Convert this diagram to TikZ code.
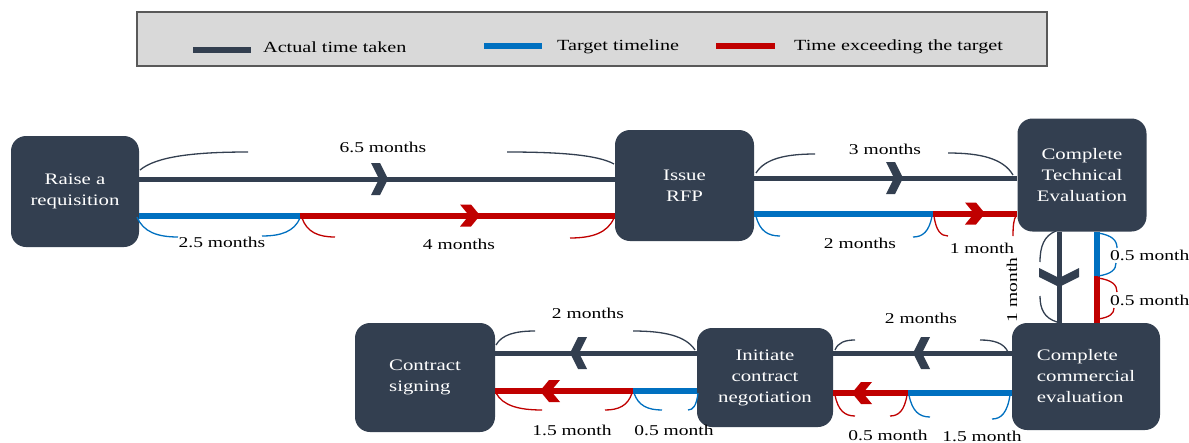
\documentclass[tikz,border=0pt]{standalone}
\usepackage{fontspec}
\setmainfont{Liberation Serif}[FakeStretch=1.3]
\usetikzlibrary{calc}
\definecolor{dk}{HTML}{333F50}
\definecolor{bl}{HTML}{0070C0}
\definecolor{rd}{HTML}{C00000}
\definecolor{lg}{HTML}{D9D9D9}
\definecolor{lb}{HTML}{595959}
\newcommand\myhb[5]{\draw[brc,#1] (#2,#3) .. controls ({#2+0.15*(#4-#2)},{#3+0.75*(#5-#3)}) and ({#2+0.5*(#4-#2)},#5) .. (#4,#5);}
\newcommand\myvb[5]{\draw[brc,#1] (#2,#3) .. controls ({#2+0.75*(#4-#2)},{#3+0.15*(#5-#3)}) and (#4,{#3+0.5*(#5-#3)}) .. (#4,#5);}
\begin{document}
\begin{tikzpicture}[x=1pt,y=-1pt,
 box/.style={fill=dk, rounded corners=15pt, text=white, font=\fontsize{16}{21}\selectfont, inner sep=0pt},
 lbl/.style={font=\fontsize{15}{17}\selectfont, inner sep=0pt},
 leglbl/.style={font=\fontsize{15.5}{17}\selectfont, inner sep=0pt, anchor=base west},
 dline/.style={draw=dk, line width=5pt},
 bline/.style={draw=bl, line width=6pt},
 rline/.style={draw=rd, line width=6pt},
 brc/.style={line width=1.3pt},
 chevD/.pic={\fill[dk] (-17,-16) -- (-8,-16) -- (0,0) -- (-8,16) -- (-17,16) -- (-9,0) -- cycle;},
 chevV/.pic={\fill[dk] (-19,-20) -- (-10,-20) -- (0,0) -- (-10,20) -- (-19,20) -- (-9,0) -- cycle;},
 chevR/.pic={\fill[rd] (-20,-11) -- (-9,-11) -- (0,0) -- (-9,11) -- (-20,11) -- (-11,0) -- cycle;},
]
\useasboundingbox (0,0) rectangle (1189,442);

% legend
\node[draw=lb, line width=1.2pt, fill=lg, minimum width=910pt, minimum height=54pt, inner sep=0pt] (leg) at (592,39) {};
\draw[dk, line width=6pt] (193,49.5) -- (251,49.5);
\node[leglbl] (l1) at (263,52) {Actual time taken};
\draw[bl, line width=6pt] (484,46) -- (542,46);
\node[leglbl] (l2) at (557,50) {Target timeline};
\draw[rd, line width=6pt] (716,46) -- (775,46);
\node[leglbl] (l3) at (794,50) {Time exceeding the target};

% nodes
\node[box, minimum width=128pt, minimum height=111pt, align=center] (req) at (75,191.5) {Raise a\\requisition};
\node[box, minimum width=139pt, minimum height=111pt, align=center] (rfp) at (684.5,185.5) {Issue\\RFP};
\node[box, minimum width=129pt, minimum height=113pt, align=center] (tech) at (1082,175) {Complete\\Technical\\Evaluation};
\node[box, minimum width=148pt, minimum height=107pt, align=left] (comm) at (1086,376.5) {Complete\\commercial\\evaluation};
\node[box, minimum width=136pt, minimum height=99pt, align=center] (neg) at (765,377.5) {Initiate\\contract\\negotiation};
\node[box, minimum width=140pt, minimum height=109pt, align=left] (sign) at (425,377.5) {Contract\\signing};

% segment 1
\coordinate (d1) at (0,179); \coordinate (s1) at (300,215.5);
\draw[dline] (req.east |- d1) -- (rfp.west |- d1);
\draw[bline] (req.east |- s1) -- (s1);
\draw[rline] (s1) -- (rfp.west |- s1);
\pic at (388,179) {chevD};
\pic at (480,215.5) {chevR};

% segment 2
\coordinate (d2) at (0,178); \coordinate (s2) at (933,213.5);
\draw[dline] (rfp.east |- d2) -- (tech.west |- d2);
\draw[bline] (rfp.east |- s2) -- (s2);
\draw[rline] (s2) -- (tech.west |- s2);
\pic at (903,178) {chevD};
\pic at (985,213.5) {chevR};

% segment 3 (vertical)
\coordinate (d3) at (1059,0); \coordinate (s3) at (1097,275.5);
\draw[dline] (tech.south -| d3) -- (comm.north -| d3);
\draw[bline] (tech.south -| s3) -- (s3);
\draw[rline] (s3) -- (comm.north -| s3);
\pic[rotate=-90] at (1059,287) {chevV};

% segment 4
\coordinate (d4) at (0,353); \coordinate (s4) at (908,393);
\draw[dline] (comm.west |- d4) -- (neg.east |- d4);
\draw[bline] (comm.west |- s4) -- (s4);
\draw[rline] (s4) -- (neg.east |- s4);
\pic[rotate=180] at (913,353) {chevD};
\pic[rotate=180] at (852,393) {chevR};

% segment 5
\coordinate (s5) at (633,391);
\draw[dline] (neg.west |- d4) -- (sign.east |- d4);
\draw[bline] (neg.west |- s5) -- (s5);
\draw[rline] (s5) -- (sign.east |- s5);
\pic[rotate=180] at (570,353) {chevD};
\pic[rotate=180] at (540,391) {chevR};

% braces
\myhb{dk}{140}{170}{248}{152}
\myhb{dk}{614}{164}{507}{152}
\myhb{bl}{137}{217}{178}{237}
\myhb{bl}{300}{218}{262}{236}
\myhb{rd}{302}{218}{335}{237}
\myhb{rd}{614}{218}{570}{238}

\myhb{dk}{756}{173}{815}{154}
\myhb{dk}{1013}{175}{948}{153}
\myhb{bl}{756}{216}{780}{236}
\myhb{bl}{932}{216}{913}{237}
\myhb{rd}{934}{216}{948}{236}
\myvb{rd}{1016}{216}{1013}{236}

\myvb{dk}{1056}{231}{1040}{262}
\myvb{dk}{1057}{322}{1040}{296}
\myvb{bl}{1098}{233}{1117}{248}
\myvb{bl}{1098}{276}{1116}{263}
\myvb{rd}{1098}{278}{1117}{292}
\myvb{rd}{1098}{319}{1114}{308}

\myhb{dk}{835}{350}{855}{340}
\myhb{dk}{1008}{352}{980}{340}
\myhb{bl}{909}{395}{930}{417}
\myhb{bl}{1010}{395}{992}{419}
\myhb{rd}{835}{395}{855}{416}
\myhb{rd}{907}{395}{890}{416}

\myhb{dk}{496}{345}{535}{331}
\myhb{dk}{695}{350}{633}{331}
\myhb{rd}{496}{393}{542}{410}
\myhb{rd}{632}{393}{605}{410}
\myhb{bl}{634}{393}{662}{410}
\myhb{bl}{698}{393}{688}{410}

% labels
\node[lbl] (t1) at (383,147) {6.5 months};
\node[lbl] (t2) at (222,242) {2.5 months};
\node[lbl] (t3) at (459,244) {4 months};
\node[lbl] (t4) at (885,149) {3 months};
\node[lbl] (t5) at (860,243) {2 months};
\node[lbl] (t6) at (982,248) {1 month};
\node[lbl, rotate=90] (t7) at (1012,290) {1 month};
\node[lbl, anchor=west] (t8) at (1110,255) {0.5 month};
\node[lbl, anchor=west] (t9) at (1110,300) {0.5 month};
\node[lbl] (t10) at (921,318) {2 months};
\node[lbl] (t11) at (982,436) {1.5 month};
\node[lbl] (t12) at (888,435) {0.5 month};
\node[lbl] (t13) at (588,313) {2 months};
\node[lbl] (t14) at (572,430) {1.5 month};
\node[lbl] (t15) at (674,430) {0.5 month};
\end{tikzpicture}
\end{document}
